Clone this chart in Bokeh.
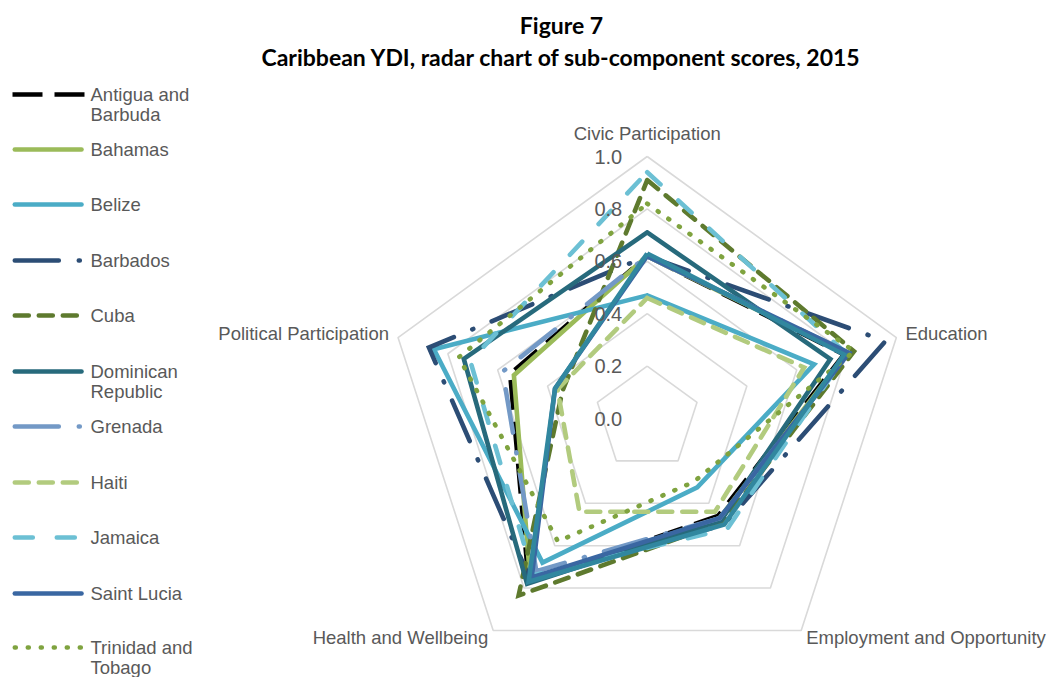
import numpy as np
from bokeh.plotting import figure
from bokeh.models import Range1d, Label
from bokeh.embed import file_html
from bokeh.resources import INLINE

# ---------------- data ----------------
categories = ["Civic Participation", "Education", "Employment and Opportunity",
              "Health and Wellbeing", "Political Participation"]
ring_values = [0.2, 0.4, 0.6, 0.8, 1.0]
tick_values = [0.0, 0.2, 0.4, 0.6, 0.8, 1.0]
tick_labels = ["0.0", "0.2", "0.4", "0.6", "0.8", "1.0"]

countries = ["Antigua and Barbuda", "Bahamas", "Belize", "Barbados", "Cuba",
             "Dominican Republic", "Grenada", "Haiti", "Jamaica", "Saint Lucia",
             "Trinidad and Tobago"]
legend_labels = [["Antigua and", "Barbuda"], ["Bahamas"], ["Belize"], ["Barbados"], ["Cuba"],
                 ["Dominican", "Republic"], ["Grenada"], ["Haiti"], ["Jamaica"], ["Saint Lucia"],
                 ["Trinidad and", "Tobago"]]

antigua = [0.62, 0.79, 0.46, 0.77, 0.55]
bahamas = [0.62, 0.80, 0.47, 0.76, 0.535]
belize = [0.47, 0.67, 0.325, 0.68, 0.856]
barbados = [0.62, 0.956, 0.50, 0.76, 0.876]
cuba = [0.91, 0.83, 0.49, 0.835, 0.34]
dominican_republic = [0.71, 0.735, 0.48, 0.78, 0.736]
grenada = [0.62, 0.81, 0.47, 0.72, 0.58]
haiti = [0.46, 0.63, 0.44, 0.44, 0.36]
jamaica = [0.94, 0.80, 0.52, 0.74, 0.71]
saint_lucia = [0.62, 0.81, 0.47, 0.75, 0.37]
trinidad = [0.82, 0.83, 0.30, 0.58, 0.756]
# series drawn on the chart whose legend entry is not visible in the picture
unlabeled_series = [0.63, 0.79, 0.50, 0.77, 0.37]

series_values = [antigua, bahamas, belize, barbados, cuba, dominican_republic,
                 grenada, haiti, jamaica, saint_lucia, trinidad]

# ---------------- styles ----------------
colors = ["#000000", "#9BBB59", "#4BACC6", "#2C4D75", "#5E7A2E", "#276A7C",
          "#7399C6", "#B2CB7E", "#6CC0D4", "#3A67A2", "#7FA33F"]
dashes = ["30 12", "solid", "solid", "44 20 1 20", "14 10", "solid",
          "44 20 1 20", "14 10", "18 24", "solid", "1 12"]
caps = ["butt", "round", "round", "round", "round", "round",
        "round", "round", "round", "round", "round"]
unlabeled_color = "#31879F"
LW = 4.6

# ---------------- geometry ----------------
W, H = 1050, 677
R = 262.0              # px per unit
CX, CY = 646.7, 418.0  # centre in page px (from top-left)

angles = np.deg2rad(90 - 72 * np.arange(5))

p = figure(width=W, height=H, output_backend="svg", toolbar_location=None,
           x_range=Range1d(-CX / R, (W - CX) / R),
           y_range=Range1d(-(H - CY) / R, CY / R),
           min_border=0, outline_line_color=None)
p.axis.visible = False
p.grid.visible = False
p.background_fill_color = "white"


def dx(px):
    return (px - CX) / R


def dy(py):
    return (CY - py) / R


def closed(vals):
    v = np.asarray(vals + vals[:1], dtype=float)
    a = np.concatenate([angles, angles[:1]])
    return v * np.cos(a), v * np.sin(a)


# grid rings
for rv in ring_values:
    xs, ys = closed([rv] * 5)
    p.line(xs, ys, line_color="#D9D9D9", line_width=1.6)

# tick labels
for tv, tl in zip(tick_values, tick_labels):
    p.add_layout(Label(x=-25 / R, y=tv, text=tl, text_align="right", text_baseline="middle",
                       text_font="Liberation Sans", text_font_size="20px", text_color="#595959"))

# series
for vals, c, d, cap in zip(series_values, colors, dashes, caps):
    xs, ys = closed(vals)
    p.line(xs, ys, line_color=c, line_width=LW, line_dash=d, line_cap=cap, line_join="miter")
xs, ys = closed(unlabeled_series)
p.line(xs, ys, line_color=unlabeled_color, line_width=LW, line_join="miter")

# category labels
cat_pos = [
    (0.0, 1.0 + 23 / R, "center"),
    (np.cos(angles[1]) + 9 / R, np.sin(angles[1]) + 4 / R, "left"),
    (np.cos(angles[2]) + 5 / R, np.sin(angles[2]) - 7 / R, "left"),
    (np.cos(angles[3]) - 5 / R, np.sin(angles[3]) - 7 / R, "right"),
    (np.cos(angles[4]) - 9 / R, np.sin(angles[4]) + 4 / R, "right"),
]
for name, (lx, ly, al) in zip(categories, cat_pos):
    p.add_layout(Label(x=lx, y=ly, text=name, text_align=al, text_baseline="middle",
                       text_font="Liberation Sans", text_font_size="18.5px", text_color="#595959"))

# title
p.add_layout(Label(x=dx(561), y=dy(24), text="Figure 7", text_align="center", text_baseline="middle",
                   text_font="Lato", text_font_style="bold", text_font_size="23px", text_color="#000000"))
p.add_layout(Label(x=dx(561), y=dy(56), text="Caribbean YDI, radar chart of sub-component scores, 2015",
                   text_align="center", text_baseline="middle",
                   text_font="Lato", text_font_style="bold", text_font_size="23px", text_color="#000000"))

# legend (drawn manually)
legend_y = [94, 149, 204, 260, 315, 371, 426, 482, 537, 593, 647]
for lines, c, d, cap, ly in zip(legend_labels, colors, dashes, caps, legend_y):
    if cap == "butt":
        x0, x1 = 12, 84
    else:
        x0, x1 = 14.3, 81
    p.line([dx(x0), dx(x1)], [dy(ly), dy(ly)], line_color=c, line_width=LW, line_dash=d, line_cap=cap)
    for k, t in enumerate(lines):
        p.add_layout(Label(x=dx(90), y=dy(ly + 20 * k), text=t, text_align="left", text_baseline="middle",
                           text_font="Liberation Sans", text_font_size="18.5px", text_color="#595959"))

open("out.html", "w").write(file_html(p, INLINE))
